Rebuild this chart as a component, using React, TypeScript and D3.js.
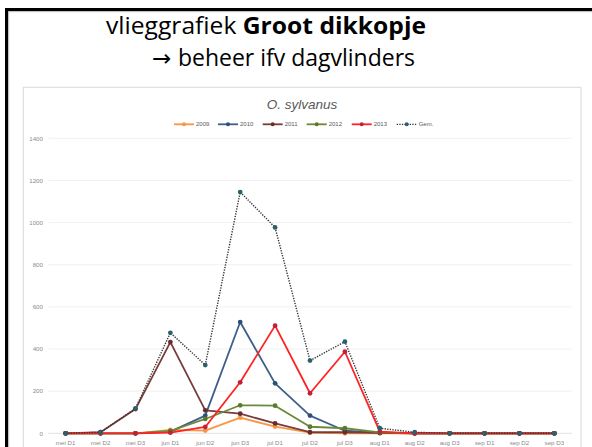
import React from "react";
import * as d3 from "d3";

const categories = ["mei D1","mei D2","mei D3","jun D1","jun D2","jun D3","jul D1","jul D2","jul D3","aug D1","aug D2","aug D3","sep D1","sep D2","sep D3"];
const s2009 = [0,0,0,16,13,74,32,3,0,0,0,0,0,0,0];
const s2010 = [0,0,0,8,84,528,237,84,12,2,0,0,0,0,0];
const s2011 = [0,5,115,433,109,93,47,5,5,2,0,0,0,0,0];
const s2012 = [0,0,0,11,68,133,131,31,24,4,0,0,0,0,0];
const s2013 = [0,0,0,3,30,242,511,190,387,8,0,0,0,0,0];
const sGem = [0,5,118,477,324,1145,977,345,435,24,5,0,0,0,0];
const yTicks = [0,200,400,600,800,1000,1200,1400];
const seriesNames = ["2009","2010","2011","2012","2013","Gem."];

const series = [
  { name: seriesNames[0], values: s2009, color: "#F79646", marker: "#F79646", dash: null },
  { name: seriesNames[1], values: s2010, color: "#3E5F8A", marker: "#2E4F7A", dash: null },
  { name: seriesNames[2], values: s2011, color: "#7A3B3B", marker: "#6A2B2B", dash: null },
  { name: seriesNames[3], values: s2012, color: "#6A8A3A", marker: "#5A7A2A", dash: null },
  { name: seriesNames[4], values: s2013, color: "#FF2222", marker: "#C0203A", dash: null },
  { name: seriesNames[5], values: sGem, color: "#333333", marker: "#2A6070", dash: "1.3,1.3" },
];

export default function App() {
  const x = d3.scalePoint<string>().domain(categories).range([48.2, 571.8]).padding(0.5);
  const y = d3.scaleLinear().domain([0, 1400]).range([433.3, 138.3]);
  const line = d3.line<number>().x((_, i) => x(categories[i])!).y((d) => y(d));
  const font = "'Liberation Sans', Arial, sans-serif";
  const titleFont = "'Open Sans', 'Noto Sans', sans-serif";
  const legendX = [174, 218, 262.7, 306.7, 351.7, 396.7];
  return (
    <svg width={592} height={447} style={{ position: "absolute", left: 0, top: 0, background: "#fff" }}>
      <rect x={0} y={0} width={592} height={447} fill="#fff" />
      {/* slide border */}
      <rect x={5} y={8} width={600} height={3.2} fill="#000" />
      <rect x={5} y={8} width={3.2} height={450} fill="#000" />
      <line x1={8.7} y1={11.7} x2={592} y2={11.7} stroke="#bbb" strokeWidth={0.8} />
      <line x1={8.7} y1={11.7} x2={8.7} y2={447} stroke="#bbb" strokeWidth={0.8} />
      {/* slide title */}
      <text x={106} y={34} fontFamily={titleFont} fontSize={23} fill="#000" textLength={320} lengthAdjust="spacingAndGlyphs">
        vlieggrafiek <tspan fontWeight="bold">Groot dikkopje</tspan>
      </text>
      <text x={152} y={65.5} fontFamily={titleFont} fontSize={23} fill="#000">
        <tspan fontFamily="'DejaVu Sans', sans-serif">→</tspan>
      </text>
      <text x={178} y={65.5} fontFamily={titleFont} fontSize={23} fill="#000" textLength={237} lengthAdjust="spacingAndGlyphs">
        beheer ifv dagvlinders
      </text>
      {/* chart box */}
      <rect x={23.3} y={87.3} width={557.7} height={380} fill="#fff" stroke="#D9D9D9" strokeWidth={1} />
      <text x={302} y={109} textAnchor="middle" fontFamily={font} fontStyle="italic" fontSize={13.5} fill="#595959">
        O. sylvanus
      </text>
      {/* legend */}
      {series.map((s, i) => (
        <g key={s.name}>
          <line x1={legendX[i]} x2={legendX[i] + 20} y1={124.3} y2={124.3} stroke={s.color} strokeWidth={s.dash ? 1.3 : 1.8} strokeDasharray={s.dash ?? undefined} />
          <circle cx={legendX[i] + 10} cy={124.3} r={2} fill={s.marker} />
          <text x={legendX[i] + 22} y={126.4} fontFamily={font} fontSize={6} fill="#595959">{s.name}</text>
        </g>
      ))}
      {/* gridlines */}
      {yTicks.map((t) => (
        <g key={t}>
          <line x1={48.2} x2={571.8} y1={y(t)} y2={y(t)} stroke={t === 0 ? "#D9D9D9" : "#EDEDED"} strokeWidth={0.8} />
          <text x={43} y={y(t) + 2.2} textAnchor="end" fontFamily={font} fontSize={6.2} fill="#8C8C8C">{t}</text>
        </g>
      ))}
      {categories.map((c) => (
        <text key={c} x={x(c)} y={444.5} textAnchor="middle" fontFamily={font} fontSize={6.2} fill="#8C8C8C">{c}</text>
      ))}
      {/* series */}
      {series.map((s) => (
        <g key={s.name}>
          <path d={line(s.values)!} fill="none" stroke={s.color} strokeWidth={s.dash ? 1.4 : 1.8} strokeDasharray={s.dash ?? undefined} strokeLinejoin="round" />
          {s.values.map((v, i) => (
            <circle key={i} cx={x(categories[i])} cy={y(v)} r={2.4} fill={s.marker} />
          ))}
        </g>
      ))}
    </svg>
  );
}
